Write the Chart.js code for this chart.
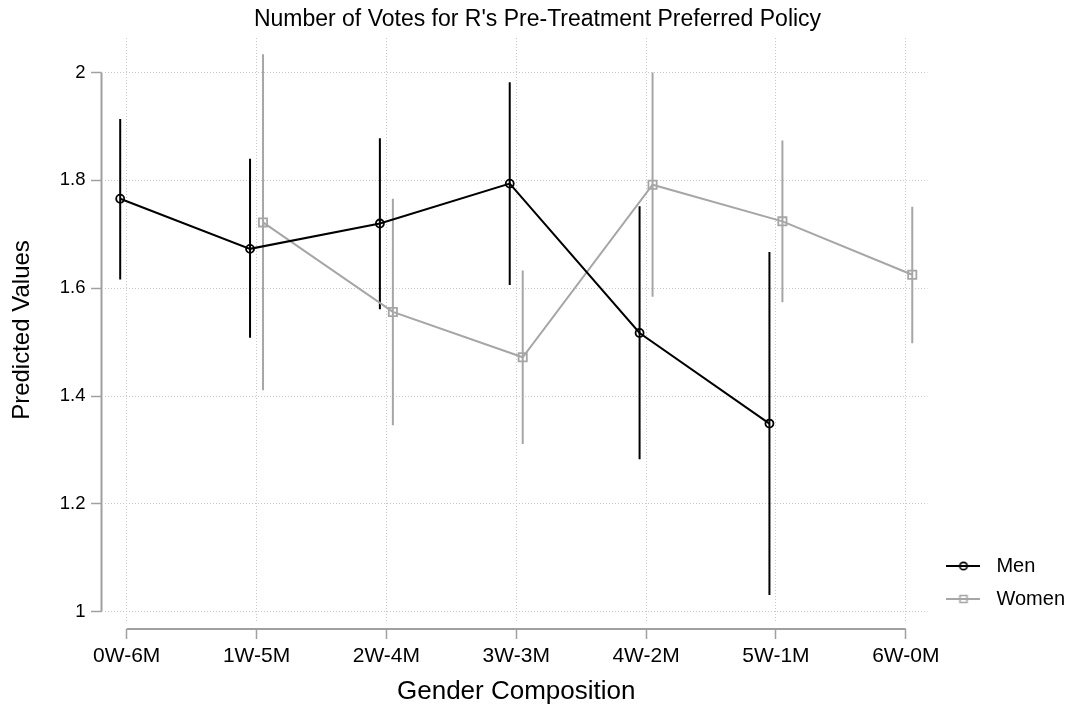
<!DOCTYPE html>
<html>
<head>
<meta charset="utf-8">
<script src="https://cdn.jsdelivr.net/npm/chart.js@4.4.1/dist/chart.umd.min.js"></script>
<style>
  html, body { margin: 0; padding: 0; background: #fff; }
  #wrap { width: 1075px; height: 707px; }
</style>
</head>
<body>
<div id="wrap"><canvas id="chart"></canvas></div>
<script>
// x categories and y ticks
const categories = ['0W-6M', '1W-5M', '2W-4M', '3W-3M', '4W-2M', '5W-1M', '6W-0M'];
const yTicks = [1, 1.2, 1.4, 1.6, 1.8, 2];

// Men: predicted value + CI, categories 0..5
const menIdx  = [0, 1, 2, 3, 4, 5];
const menFit  = [1.766, 1.673, 1.720, 1.794, 1.517, 1.349];
const menLow  = [1.616, 1.508, 1.561, 1.606, 1.283, 1.031];
const menHigh = [1.914, 1.840, 1.878, 1.982, 1.752, 1.667];

// Women: predicted value + CI, categories 1..6
const womenIdx  = [1, 2, 3, 4, 5, 6];
const womenFit  = [1.722, 1.556, 1.472, 1.792, 1.724, 1.625];
const womenLow  = [1.411, 1.346, 1.311, 1.584, 1.574, 1.498];
const womenHigh = [2.034, 1.766, 1.633, 2.000, 1.874, 1.751];

const MEN = '#000000';
const WOMEN = '#a6a6a6';
const AXIS = '#a0a0a0';
const GRID = '#c8c8c8';
const SHIFT = 0.05;   // men drawn a bit left, women a bit right
const FONT = "'Liberation Sans', Arial, Helvetica, sans-serif";

const pts = (idx, vals, d) => idx.map((c, i) => ({ x: c + d, y: vals[i] }));
const bars = (idx, lo, hi, d) => idx.map((c, i) => ({ x: c + d, y: [lo[i], hi[i]] }));

// little line+marker pictures for the legend
function legendSymbol(color, shape) {
  const c = document.createElement('canvas');
  c.width = 34; c.height = 12;
  const g = c.getContext('2d');
  g.strokeStyle = color;
  g.lineWidth = 2;
  g.beginPath(); g.moveTo(0, 6); g.lineTo(34, 6); g.stroke();
  g.lineWidth = 1.7;
  g.beginPath();
  if (shape === 'circle') g.arc(17, 6, 3.7, 0, Math.PI * 2);
  else g.rect(13.5, 2.5, 7, 7);
  g.stroke();
  return c;
}
const symbols = [legendSymbol(MEN, 'circle'), legendSymbol(WOMEN, 'rect')];

// Stata style axis lines: only between first and last tick, set off from the plot area
const axisLines = {
  id: 'axisLines',
  afterDraw(chart) {
    const { ctx, chartArea, scales: { x, y } } = chart;
    ctx.save();
    ctx.strokeStyle = AXIS;
    ctx.lineWidth = 2;
    ctx.beginPath();
    const ax = chartArea.left - 3.5;
    ctx.moveTo(ax, y.getPixelForValue(yTicks[0]));
    ctx.lineTo(ax, y.getPixelForValue(yTicks[yTicks.length - 1]));
    const ay = chartArea.bottom + 7;
    ctx.moveTo(x.getPixelForValue(0), ay);
    ctx.lineTo(x.getPixelForValue(categories.length - 1), ay);
    ctx.stroke();
    ctx.restore();
  }
};

new Chart(document.getElementById('chart'), {
  data: {
    datasets: [
      {
        type: 'line', label: 'Men',
        data: pts(menIdx, menFit, -SHIFT),
        borderColor: MEN, borderWidth: 2,
        pointStyle: 'circle', pointRadius: 4, pointBorderWidth: 1.8,
        pointBorderColor: MEN, pointBackgroundColor: 'rgba(0,0,0,0)',
        tension: 0
      },
      {
        type: 'line', label: 'Women',
        data: pts(womenIdx, womenFit, SHIFT),
        borderColor: WOMEN, borderWidth: 2,
        pointStyle: 'rect', pointRadius: 5.8, pointBorderWidth: 1.8,
        pointBorderColor: WOMEN, pointBackgroundColor: 'rgba(0,0,0,0)',
        tension: 0
      },
      {
        type: 'bar', label: 'Men CI',
        data: bars(menIdx, menLow, menHigh, -SHIFT),
        backgroundColor: MEN, borderWidth: 0,
        grouped: false, maxBarThickness: 2
      },
      {
        type: 'bar', label: 'Women CI',
        data: bars(womenIdx, womenLow, womenHigh, SHIFT),
        backgroundColor: WOMEN, borderWidth: 0,
        grouped: false, maxBarThickness: 2
      }
    ]
  },
  options: {
    responsive: true,
    maintainAspectRatio: false,
    animation: false,
    events: [],
    layout: { padding: 0 },
    plugins: {
      title: {
        display: true,
        text: "Number of Votes for R's Pre-Treatment Preferred Policy",
        color: '#000',
        font: { family: FONT, size: 23, weight: 'normal' },
        padding: { top: 5.5, bottom: 4.9 }
      },
      legend: {
        position: 'right',
        align: 'end',
        fullSize: false,
        labels: {
          color: '#000',
          font: { family: FONT, size: 20 },
          padding: 13,
          usePointStyle: true,
          pointStyleWidth: 46,
          filter: item => item.datasetIndex < 2,
          generateLabels: chart => {
            const items = Chart.defaults.plugins.legend.labels.generateLabels(chart);
            items.forEach(it => { if (it.datasetIndex < 2) it.pointStyle = symbols[it.datasetIndex]; });
            return items;
          }
        }
      },
      tooltip: { enabled: false }
    },
    scales: {
      x: {
        type: 'linear',
        offset: false,
        min: -0.167,
        max: 6.167,
        afterBuildTicks: s => { s.ticks = categories.map((c, i) => ({ value: i })); },
        afterFit: s => { s.height = 85; },
        ticks: {
          autoSkip: false,
          maxRotation: 0,
          color: '#000',
          padding: 5,
          font: { family: FONT, size: 21 },
          callback: v => categories[v] ?? ''
        },
        grid: {
          offset: false,
          color: GRID,
          lineWidth: 1,
          tickLength: 17,
          tickColor: AXIS,
          tickWidth: 1.5,
          tickBorderDash: [0, 7, 10, 100]
        },
        border: { display: false, dash: [1, 2] },
        title: {
          display: true,
          text: 'Gender Composition',
          color: '#000',
          font: { family: FONT, size: 26 },
          padding: { top: 0, bottom: 0 }
        }
      },
      y: {
        type: 'linear',
        min: 0.981,
        max: 2.064,
        afterBuildTicks: s => { s.ticks = yTicks.map(v => ({ value: v })); },
        afterFit: s => { s.width = 105; },
        ticks: {
          color: '#000',
          padding: 5.5,
          font: { family: FONT, size: 18.5 },
          callback: v => String(v)
        },
        grid: {
          color: GRID,
          lineWidth: 1,
          tickLength: 14,
          tickColor: AXIS,
          tickWidth: 1.5,
          tickBorderDash: [10.5, 100]
        },
        border: { display: false, dash: [1, 2] },
        title: {
          display: true,
          text: 'Predicted Values',
          color: '#000',
          font: { family: FONT, size: 24 },
          padding: { top: 8, bottom: 0 }
        }
      }
    }
  },
  plugins: [axisLines]
});
</script>
</body>
</html>
